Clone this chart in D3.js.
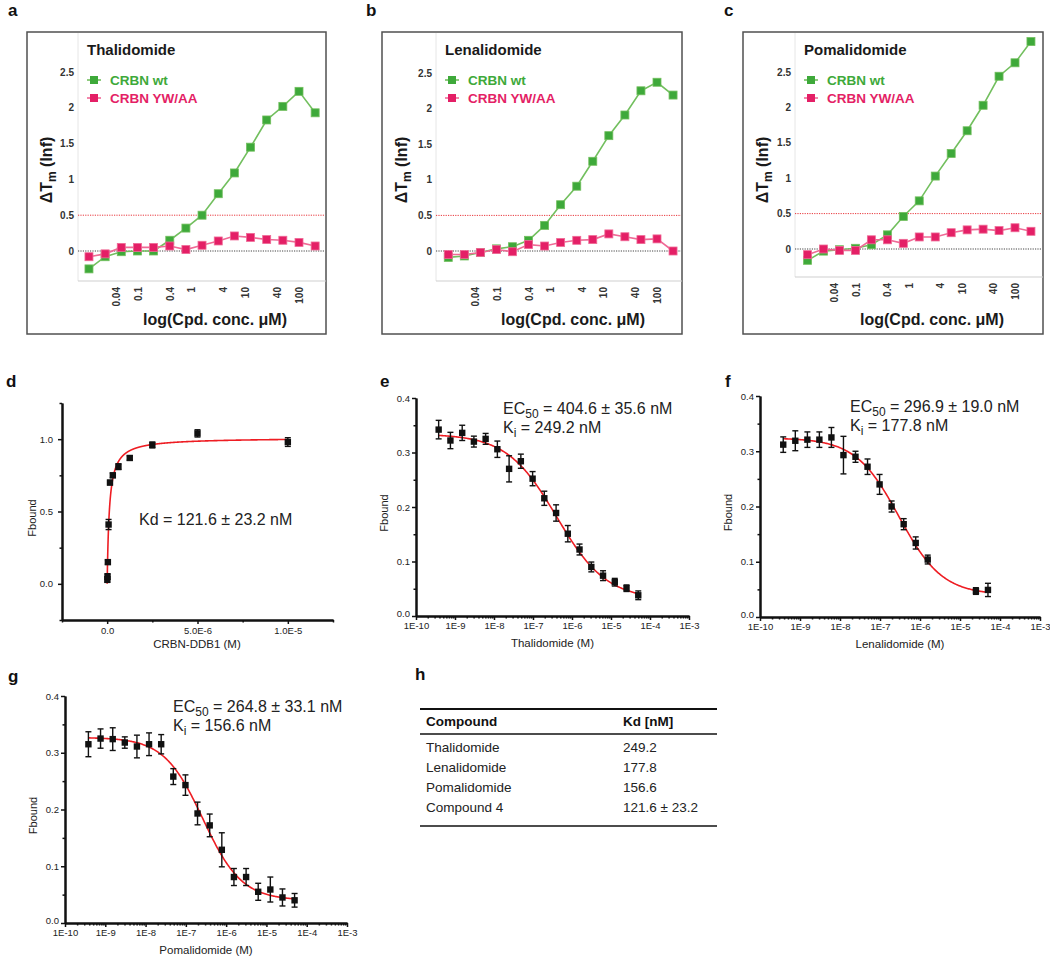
<!DOCTYPE html>
<html><head><meta charset="utf-8">
<script src="https://cdn.jsdelivr.net/npm/d3@7"></script>
<style>
body{margin:0;background:#fff}
svg{display:block}
text{font-family:"Liberation Sans",Arial,Helvetica,sans-serif}
</style>
</head><body>
<svg id="fig" width="1050" height="962"></svg>
<script>
// ===================== DATA =====================
// Panels a-c: thermal shift (ΔTm) vs compound concentration (µM)
const dsfConc   = [0.0122, 0.0244, 0.0488, 0.0977, 0.195, 0.391, 0.781, 1.56, 3.13, 6.25, 12.5, 25, 50, 100, 200];
const dsfXTicks = [0.04, 0.1, 0.4, 1, 4, 10, 40, 100];
const dsfYTicks = [0, 0.5, 1, 1.5, 2, 2.5];
const dsfTitles = ["Thalidomide", "Lenalidomide", "Pomalidomide"];
const dsfSeries = ["CRBN wt", "CRBN YW/AA"];
const thalWt = [-0.25, -0.08, -0.01, 0.00, 0.00, 0.15, 0.32, 0.50, 0.80, 1.09, 1.45, 1.83, 2.02, 2.23, 1.93];
const thalYW = [-0.08, -0.04, 0.05, 0.05, 0.05, 0.07, 0.02, 0.08, 0.14, 0.21, 0.19, 0.16, 0.15, 0.12, 0.07];
const lenaWt = [-0.09, -0.07, -0.02, 0.03, 0.06, 0.15, 0.36, 0.65, 0.91, 1.26, 1.62, 1.91, 2.25, 2.37, 2.19];
const lenaYW = [-0.05, -0.05, -0.02, 0.02, -0.01, 0.09, 0.07, 0.12, 0.15, 0.16, 0.24, 0.20, 0.16, 0.17, 0.00];
const pomaWt = [-0.16, -0.03, -0.01, 0.01, 0.06, 0.20, 0.46, 0.68, 1.03, 1.35, 1.67, 2.03, 2.44, 2.63, 2.93];
const pomaYW = [-0.08, 0.00, -0.02, -0.02, 0.13, 0.13, 0.08, 0.17, 0.17, 0.23, 0.27, 0.28, 0.26, 0.30, 0.25];
const dsfRefLines = [0.5, 0];

// Panel d: direct binding, Fbound vs CRBN-DDB1 (M)
const kdConc = [9.8e-9, 1.95e-8, 3.9e-8, 7.8e-8, 1.56e-7, 3.13e-7, 6.25e-7, 1.25e-6, 2.5e-6, 5e-6, 1e-5];
const kdF    = [0.03, 0.05, 0.15, 0.41, 0.70, 0.75, 0.81, 0.87, 0.96, 1.04, 0.98];
const kdErr  = [0.02, 0.02, 0.015, 0.035, 0.015, 0.015, 0.02, 0.015, 0.02, 0.025, 0.03];
const kdFit  = {Kd: 121.6e-9, Bmax: 1.01};
const kdText = "Kd = 121.6 ± 23.2 nM";
const kdYTicks = [0, 0.5, 1.0];
const kdYMinor = [-0.25, 0.25, 0.75, 1.25];
const kdXTicks = [0, 5e-6, 1e-5];
const kdXLabels = ["0.0", "5.0E-6", "1.0E-5"];
const kdXMinor = [-2.5e-6, 2.5e-6, 7.5e-6, 1.25e-5];

// Panels e-g: competition, Fbound vs compound (M)
const mstConc = [3.81e-10, 7.63e-10, 1.53e-9, 3.05e-9, 6.10e-9, 1.22e-8, 2.44e-8, 4.88e-8, 9.77e-8,
                 1.95e-7, 3.91e-7, 7.81e-7, 1.56e-6, 3.13e-6, 6.25e-6, 1.25e-5, 2.5e-5, 5e-5];
const thalF   = [0.342, 0.322, 0.336, 0.320, 0.325, 0.306, 0.270, 0.284, 0.252, 0.216, 0.189, 0.151, 0.122, 0.090, 0.074, 0.062, 0.051, 0.038];
const thalErr = [0.017, 0.015, 0.014, 0.010, 0.010, 0.015, 0.024, 0.013, 0.013, 0.013, 0.015, 0.015, 0.010, 0.009, 0.009, 0.007, 0.006, 0.008];
const lenaConc = [3.81e-10, 7.63e-10, 1.53e-9, 3.05e-9, 6.10e-9, 1.22e-8, 2.44e-8, 4.88e-8, 9.77e-8,
                  1.95e-7, 3.91e-7, 7.81e-7, 1.56e-6, 2.5e-5, 5e-5];
const lenaF   = [0.312, 0.319, 0.321, 0.321, 0.325, 0.293, 0.290, 0.272, 0.240, 0.200, 0.168, 0.134, 0.104, 0.047, 0.049];
const lenaErr = [0.014, 0.018, 0.014, 0.014, 0.018, 0.034, 0.010, 0.014, 0.018, 0.010, 0.010, 0.011, 0.008, 0.006, 0.012];
const pomaF   = [0.315, 0.325, 0.324, 0.318, 0.311, 0.315, 0.315, 0.258, 0.243, 0.193, 0.172, 0.129, 0.081, 0.081, 0.055, 0.059, 0.045, 0.040];
const pomaErr = [0.022, 0.017, 0.020, 0.010, 0.020, 0.020, 0.017, 0.014, 0.018, 0.020, 0.020, 0.030, 0.015, 0.015, 0.015, 0.022, 0.015, 0.012];
const fitTop    = [0.334, 0.324, 0.327];
const fitBottom = [0.030, 0.040, 0.040];
const fitEC50   = [404.6e-9, 296.9e-9, 264.8e-9];
const fitHill   = [0.68, 0.80, 0.90];
const mstNames  = ["Thalidomide (M)", "Lenalidomide (M)", "Pomalidomide (M)"];
const mstEC50Text = ["404.6 ± 35.6 nM", "296.9 ± 19.0 nM", "264.8 ± 33.1 nM"];
const mstKiText   = ["249.2 nM", "177.8 nM", "156.6 nM"];
const mstYTicks = [0, 0.1, 0.2, 0.3, 0.4];
const mstYMinor = [0.05, 0.15, 0.25, 0.35];
const mstXTicks = [1e-10, 1e-9, 1e-8, 1e-7, 1e-6, 1e-5, 1e-4, 1e-3];

// Panel h: table
const tableHeader = ["Compound", "Kd [nM]"];
const tableCompounds = ["Thalidomide", "Lenalidomide", "Pomalidomide", "Compound 4"];
const tableKd = ["249.2", "177.8", "156.6", "121.6 ± 23.2"];

// ===================== DRAWING =====================
const svg = d3.select("#fig");
const GREEN = "#3ea93a", GREEN_L = "#72bf5e", PINK = "#e41f66", PINK_L = "#ef6a96";

function label(t, x, y) {
  svg.append("text").attr("x", x).attr("y", y).attr("font-size", 17)
     .attr("font-weight", "bold").attr("fill", "#111").text(t);
}
[["a", 8, 16], ["b", 366, 16], ["c", 724, 16], ["d", 6, 387], ["e", 380, 387],
 ["f", 725, 387], ["g", 8, 682], ["h", 415, 680]].forEach(d => label(...d));

// ---------- a-c ----------
const dsfPanels = [
  {title: dsfTitles[0], wt: thalWt, yw: thalYW, box: [27, 32, 299, 302], plotLeft: 78,  x01: 138, x100: 299,  y0: 251, y25: 72, axisY: 281},
  {title: dsfTitles[1], wt: lenaWt, yw: lenaYW, box: [382, 32, 300, 302], plotLeft: 436, x01: 497, x100: 657, y0: 251, y25: 73, axisY: 281},
  {title: dsfTitles[2], wt: pomaWt, yw: pomaYW, box: [743, 32, 300, 302], plotLeft: 795, x01: 856, x100: 1015, y0: 249, y25: 72, axisY: 277}
];

function drawDSF(p) {
  const g = svg.append("g");
  const x = d3.scaleLog().domain([0.1, 100]).range([p.x01, p.x100]);
  const y = d3.scaleLinear().domain([0, 2.5]).range([p.y0, p.y25]);
  const right = p.box[0] + p.box[2];
  g.append("rect").attr("x", p.box[0]).attr("y", p.box[1]).attr("width", p.box[2]).attr("height", p.box[3])
   .attr("fill", "none").attr("stroke", "#505050").attr("stroke-width", 1.5);
  g.append("line").attr("x1", p.plotLeft).attr("x2", p.plotLeft).attr("y1", p.box[1] + 1).attr("y2", p.axisY)
   .attr("stroke", "#e6e6e6").attr("stroke-width", 1);
  g.append("line").attr("x1", p.plotLeft).attr("x2", right).attr("y1", p.axisY).attr("y2", p.axisY)
   .attr("stroke", "#cfcfcf").attr("stroke-width", 1);
  // reference dotted lines
  g.selectAll(".ref").data(dsfRefLines).join("line")
   .attr("x1", p.plotLeft).attr("x2", right - 1).attr("y1", d => y(d)).attr("y2", d => y(d))
   .attr("stroke", d => d === 0 ? "#444" : "#e8383d").attr("stroke-width", 1)
   .attr("stroke-dasharray", "1.2,1.2");
  // y tick labels
  g.selectAll(".yt").data(dsfYTicks).join("text")
   .attr("x", p.plotLeft - 4).attr("y", d => y(d)).attr("dy", "0.35em").attr("text-anchor", "end")
   .attr("font-size", 10).attr("font-weight", "bold").attr("fill", "#333").text(d => d);
  // x tick labels (rotated)
  g.selectAll(".xt").data(dsfXTicks).join("text")
   .attr("transform", d => `translate(${x(d)},${p.axisY + 6}) rotate(-90)`)
   .attr("dy", "0.35em").attr("text-anchor", "end")
   .attr("font-size", 10).attr("font-weight", "bold").attr("fill", "#333").text(d => d);
  // titles
  g.append("text").attr("x", p.plotLeft + 9).attr("y", 55).attr("font-size", 15).attr("font-weight", "bold")
   .attr("fill", "#1a1a1a").text(p.title);
  g.append("text").attr("x", p.plotLeft + 137).attr("y", 325).attr("text-anchor", "middle")
   .attr("font-size", 16).attr("font-weight", "bold").attr("fill", "#1a1a1a").text("log(Cpd. conc. μM)");
  const yt = g.append("text").attr("transform", `translate(${p.box[0] + 25},170) rotate(-90)`)
   .attr("text-anchor", "middle").attr("font-size", 16).attr("font-weight", "bold").attr("fill", "#1a1a1a");
  yt.append("tspan").text("ΔT");
  yt.append("tspan").attr("font-size", 12).attr("dy", 4).text("m");
  yt.append("tspan").attr("dy", -4).text(" (Inf)");
  // series
  const line = d3.line().x(d => x(d[0])).y(d => y(d[1]));
  [[p.wt, GREEN, GREEN_L], [p.yw, PINK, PINK_L]].forEach(([vals, c, cl]) => {
    const pts = dsfConc.map((cc, i) => [cc, vals[i]]);
    g.append("path").attr("d", line(pts)).attr("fill", "none").attr("stroke", cl).attr("stroke-width", 1.6);
    g.selectAll(null).data(pts).join("rect")
     .attr("x", d => x(d[0]) - 4).attr("y", d => y(d[1]) - 4).attr("width", 8).attr("height", 8)
     .attr("fill", c).attr("stroke", cl).attr("stroke-width", 0.8);
  });
  // legend
  [[dsfSeries[0], GREEN, GREEN_L, 80], [dsfSeries[1], PINK, PINK_L, 98]].forEach(([t, c, cl, ly]) => {
    g.append("line").attr("x1", p.plotLeft + 9).attr("x2", p.plotLeft + 23).attr("y1", ly).attr("y2", ly)
     .attr("stroke", cl).attr("stroke-width", 1.6);
    g.append("rect").attr("x", p.plotLeft + 12).attr("y", ly - 4).attr("width", 8).attr("height", 8).attr("fill", c);
    g.append("text").attr("x", p.plotLeft + 32).attr("y", ly).attr("dy", "0.35em").attr("font-size", 13.5)
     .attr("font-weight", "bold").attr("fill", c).text(t);
  });
}
dsfPanels.forEach(drawDSF);

// ---------- shared axis styling ----------
function styleAxis(sel, fs) {
  sel.select(".domain").attr("stroke", "#111").attr("stroke-width", 2);
  sel.selectAll(".tick line").attr("stroke", "#111").attr("stroke-width", 1.5);
  sel.selectAll(".tick text").attr("font-size", fs).attr("fill", "#222")
     .attr("font-family", '"Liberation Sans", Arial, Helvetica, sans-serif');
  sel.attr("font-family", null);
}
function errBars(g, pts, x, y, cap) {
  const eb = g.append("g").attr("stroke", "#111").attr("stroke-width", 1.4);
  pts.forEach(d => {
    const cx = x(d.c), y1 = y(d.v - d.e), y2 = y(d.v + d.e);
    eb.append("line").attr("x1", cx).attr("x2", cx).attr("y1", y1).attr("y2", y2);
    eb.append("line").attr("x1", cx - cap).attr("x2", cx + cap).attr("y1", y1).attr("y2", y1);
    eb.append("line").attr("x1", cx - cap).attr("x2", cx + cap).attr("y1", y2).attr("y2", y2);
  });
  g.selectAll(null).data(pts).join("rect")
   .attr("x", d => x(d.c) - 3.2).attr("y", d => y(d.v) - 3.2).attr("width", 6.4).attr("height", 6.4).attr("fill", "#111");
}
function subText(g, x, y, a, sub, b) {
  const t = g.append("text").attr("x", x).attr("y", y).attr("font-size", 16).attr("fill", "#222");
  t.append("tspan").text(a);
  t.append("tspan").attr("font-size", 12).attr("dy", 4).text(sub);
  t.append("tspan").attr("dy", -4).text(b);
}

// ---------- d ----------
(function drawKd() {
  const g = svg.append("g");
  const x = d3.scaleLinear().domain([-2.5e-6, 1.25e-5]).range([62, 333]);
  const y = d3.scaleLinear().domain([-0.25, 1.25]).range([620, 403]);
  const ya = g.append("g").attr("transform", `translate(${x(-2.5e-6)},0)`)
    .call(d3.axisLeft(y).tickValues(kdYTicks).tickFormat(d3.format(".1f")).tickSize(4).tickPadding(5).tickSizeOuter(0));
  styleAxis(ya, 9.5);
  const yam = g.append("g").attr("transform", `translate(${x(-2.5e-6)},0)`)
    .call(d3.axisLeft(y).tickValues(kdYMinor).tickFormat("").tickSize(2.5).tickSizeOuter(0));
  styleAxis(yam, 9.5);
  const xa = g.append("g").attr("transform", `translate(0,${y(-0.25)})`)
    .call(d3.axisBottom(x).tickValues(kdXTicks).tickFormat((d, i) => kdXLabels[i]).tickSize(4).tickPadding(3).tickSizeOuter(0));
  styleAxis(xa, 9.5);
  const xam = g.append("g").attr("transform", `translate(0,${y(-0.25)})`)
    .call(d3.axisBottom(x).tickValues(kdXMinor).tickFormat("").tickSize(2.5).tickSizeOuter(0));
  styleAxis(xam, 9.5);
  // fit curve
  const cs = d3.range(0, 1.0001e-5, 1e-9);
  const fit = cs.map(c => [c, kdFit.Bmax * c / (kdFit.Kd + c)]);
  g.append("path").attr("d", d3.line().x(d => x(d[0])).y(d => y(d[1]))(fit))
   .attr("fill", "none").attr("stroke", "#ee1d23").attr("stroke-width", 1.6);
  errBars(g, kdConc.map((c, i) => ({c, v: kdF[i], e: kdErr[i]})), x, y, 3);
  g.append("text").attr("x", 139).attr("y", 525).attr("font-size", 16).attr("fill", "#222").text(kdText);
  g.append("text").attr("x", 197).attr("y", 648).attr("text-anchor", "middle").attr("font-size", 11.5)
   .attr("fill", "#222").text("CRBN-DDB1 (M)");
  g.append("text").attr("transform", "translate(36,518) rotate(-90)").attr("text-anchor", "middle")
   .attr("font-size", 11).attr("fill", "#222").text("Fbound");
})();

// ---------- e-g ----------
const mstPanels = [
  {conc: mstConc,  F: thalF, E: thalErr, x0: 416, x1: 689,  yb: 616, yt: 398, annX: 503},
  {conc: lenaConc, F: lenaF, E: lenaErr, x0: 760, x1: 1040, yb: 617, yt: 396, annX: 850},
  {conc: mstConc,  F: pomaF, E: pomaErr, x0: 65,  x1: 347,  yb: 923, yt: 696, annX: 173}
];
mstPanels.forEach((p, k) => {
  const g = svg.append("g");
  const x = d3.scaleLog().domain([1e-10, 1e-3]).range([p.x0, p.x1]);
  const y = d3.scaleLinear().domain([0, 0.4]).range([p.yb, p.yt]);
  const ya = g.append("g").attr("transform", `translate(${p.x0},0)`)
    .call(d3.axisLeft(y).tickValues(mstYTicks).tickFormat(d3.format(".1f")).tickSize(4).tickPadding(2).tickSizeOuter(0));
  styleAxis(ya, 9.5);
  ya.selectAll(".tick text").filter(d => d === 0).attr("dy", "0.1em");
  const yam = g.append("g").attr("transform", `translate(${p.x0},0)`)
    .call(d3.axisLeft(y).tickValues(mstYMinor).tickFormat("").tickSize(2.5).tickSizeOuter(0));
  styleAxis(yam, 9.5);
  const xa = g.append("g").attr("transform", `translate(0,${p.yb})`)
    .call(d3.axisBottom(x).tickValues(mstXTicks).tickFormat(d => "1E" + Math.round(Math.log10(d)))
      .tickSize(4).tickPadding(2).tickSizeOuter(0));
  styleAxis(xa, 9.5);
  const minor = [];
  mstXTicks.slice(0, -1).forEach(t => [2, 3, 4, 5, 6, 7, 8, 9].forEach(m => minor.push(t * m)));
  const xam = g.append("g").attr("transform", `translate(0,${p.yb})`)
    .call(d3.axisBottom(x).tickValues(minor).tickFormat("").tickSize(2.5).tickSizeOuter(0));
  styleAxis(xam, 9.5);
  // fit curve (4-parameter logistic with reported EC50)
  const lo = Math.log10(p.conc[0]), hi = Math.log10(p.conc[p.conc.length - 1]);
  const lx = d3.range(lo, hi + 0.001, 0.02);
  const fit = lx.map(l => [Math.pow(10, l),
    fitBottom[k] + (fitTop[k] - fitBottom[k]) / (1 + Math.pow(10, (l - Math.log10(fitEC50[k])) * fitHill[k]))]);
  g.append("path").attr("d", d3.line().x(d => x(d[0])).y(d => y(d[1]))(fit))
   .attr("fill", "none").attr("stroke", "#ee1d23").attr("stroke-width", 1.6);
  errBars(g, p.conc.map((c, i) => ({c, v: p.F[i], e: p.E[i]})), x, y, 3);
  subText(g, p.annX, p.yt + 16, "EC", "50", " = " + mstEC50Text[k]);
  subText(g, p.annX, p.yt + 35, "K", "i", " = " + mstKiText[k]);
  g.append("text").attr("x", (p.x0 + p.x1) / 2).attr("y", p.yb + 31).attr("text-anchor", "middle")
   .attr("font-size", 11.5).attr("fill", "#222").text(mstNames[k]);
  g.append("text").attr("transform", `translate(${p.x0 - 28},${(p.yb + p.yt) / 2 + 6}) rotate(-90)`)
   .attr("text-anchor", "middle").attr("font-size", 11).attr("fill", "#222").text("Fbound");
});

// ---------- h: table ----------
(function drawTable() {
  const g = svg.append("g");
  const cols = d3.scalePoint().domain(tableHeader).range([426, 623]);
  const rows = d3.scaleLinear().domain([0, tableCompounds.length - 1]).range([752, 812]);
  g.append("line").attr("x1", 420).attr("x2", 717).attr("y1", 709).attr("y2", 709).attr("stroke", "#111").attr("stroke-width", 2);
  g.append("line").attr("x1", 420).attr("x2", 717).attr("y1", 734).attr("y2", 734).attr("stroke", "#111").attr("stroke-width", 1.5);
  g.append("line").attr("x1", 420).attr("x2", 717).attr("y1", 826).attr("y2", 826).attr("stroke", "#111").attr("stroke-width", 1.5);
  tableHeader.forEach(h => g.append("text").attr("x", cols(h)).attr("y", 726).attr("font-size", 13.5)
    .attr("font-weight", "bold").attr("fill", "#111").text(h));
  tableCompounds.forEach((c, i) => {
    g.append("text").attr("x", cols(tableHeader[0])).attr("y", rows(i)).attr("font-size", 13.5).attr("fill", "#222").text(c);
    g.append("text").attr("x", cols(tableHeader[1])).attr("y", rows(i)).attr("font-size", 13.5).attr("fill", "#222").text(tableKd[i]);
  });
})();
</script>
</body></html>
